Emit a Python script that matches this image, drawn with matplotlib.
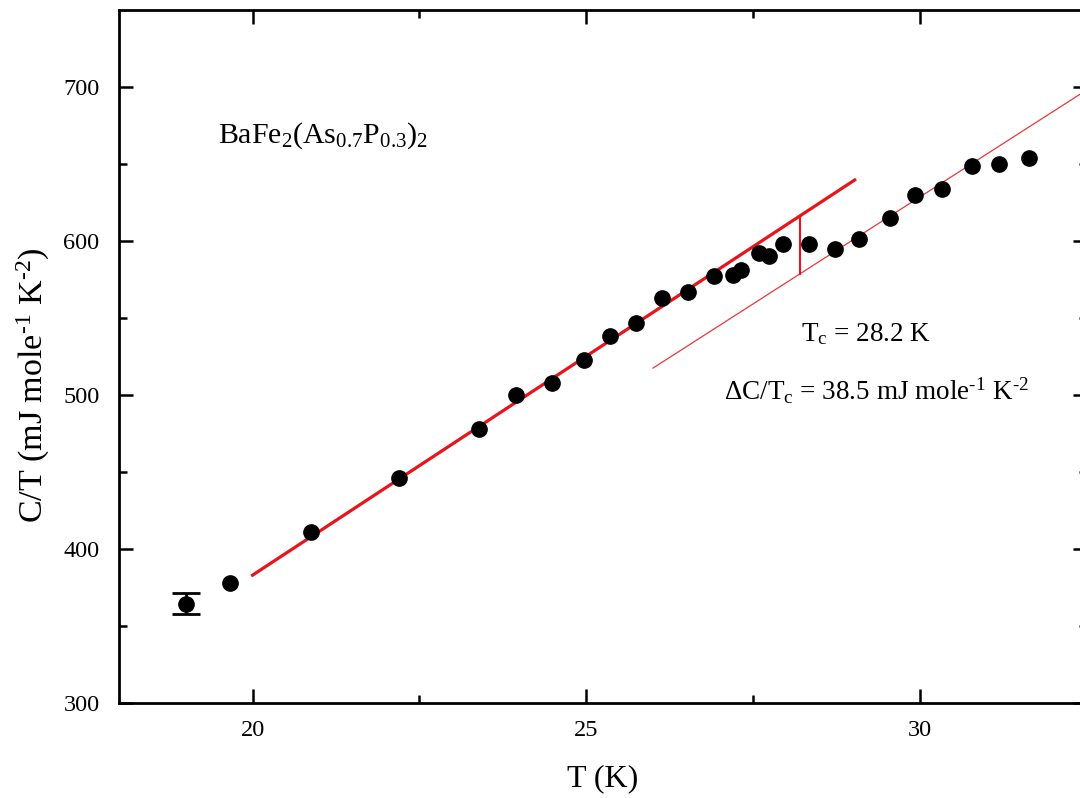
import matplotlib
matplotlib.use("Agg")
import matplotlib.pyplot as plt
import numpy as np

# Data
T = [19.67, 20.87, 22.20, 23.40, 23.94, 24.48, 24.97, 25.35, 25.74, 26.13,
     26.53, 26.91, 27.19, 27.31, 27.59, 27.73, 27.95, 28.33, 28.72, 29.09,
     29.55, 29.92, 30.33, 30.78, 31.18, 31.63]
CT = [378, 411, 446, 478, 500, 508, 523, 538, 547, 563,
      567, 577, 578, 581, 592, 590, 598, 598, 595, 601,
      615, 630, 634, 649, 650, 654]
err_T = [19.0]
err_CT = [364.5]
err_val = [7.0]

# fit lines (x range, value at start, slope)
fit_sc_x = [20.0, 29.02]
fit_sc_y0 = 383.0
fit_sc_slope = 28.45
fit_n_x = [26.0, 32.5]
fit_n_y0 = 517.5
fit_n_slope = 27.8
Tc = 28.2

plt.rcParams['font.family'] = ['Liberation Serif', 'DejaVu Serif']
plt.rcParams['mathtext.fontset'] = 'custom'
plt.rcParams['mathtext.rm'] = 'Liberation Serif'
plt.rcParams['mathtext.it'] = 'Liberation Serif:italic'
plt.rcParams['mathtext.default'] = 'regular'

W, H = 1080, 798
fig = plt.figure(figsize=(W / 100, H / 100), dpi=100)
ax = fig.add_axes([119 / W, 95 / H, (1087 - 119) / W, (703 - 10) / H])

def px(x, y):
    return x / W, 1 - y / H

red = '#e8141c'
x1 = np.array(fit_sc_x)
ax.plot(x1, fit_sc_y0 + fit_sc_slope * (x1 - fit_sc_x[0]), color=red, lw=2.3, zorder=2)
x2 = np.array(fit_n_x)
ax.plot(x2, fit_n_y0 + fit_n_slope * (x2 - fit_n_x[0]), color='#e83838', lw=0.9, zorder=2)
y_top = fit_sc_y0 + fit_sc_slope * (Tc - fit_sc_x[0])
y_bot = fit_n_y0 + fit_n_slope * (Tc - fit_n_x[0])
ax.plot([Tc, Tc], [y_bot, y_top], color=red, lw=1.5, zorder=2)

ax.plot(T, CT, 'o', color='black', ms=11, zorder=3)
ax.errorbar(err_T, err_CT, yerr=err_val, fmt='o', color='black', ms=11,
            capsize=10, capthick=2, elinewidth=2, zorder=3)

ax.set_xlim(18, 32.5)
ax.set_ylim(300, 750)
ax.set_xticks([20, 25, 30])
ax.set_xticks([22.5, 27.5], minor=True)
ax.set_yticks([300, 400, 500, 600, 700])
ax.set_yticks([350, 450, 550, 650], minor=True)
ax.tick_params(which='both', direction='in', top=True, right=True, width=1.8,
               labelsize=17.5)
ax.tick_params(axis='x', which='both', pad=12)
ax.tick_params(axis='y', which='both', pad=14)
ax.tick_params(which='major', length=10)
ax.tick_params(which='minor', length=5.5)
for s in ax.spines.values():
    s.set_linewidth(2)

fig.text(*px(603, 779), 'T (K)', fontsize=23, ha='center', va='center')
fig.text(*px(33, 385), 'C/T (mJ mole$^{\u2010 1}$ K$^{\u2010 2}$)', fontsize=24.5,
         ha='center', va='center', rotation=90)

fig.text(*px(218, 136), 'BaFe$_2$(As$_{0.7}$P$_{0.3}$)$_2$',
         fontsize=21.5, ha='left', va='center')
fig.text(*px(801, 334), 'T$_c$ = 28.2 K', fontsize=19.5, ha='left', va='center')
fig.text(*px(724, 391), '$\\Delta$C/T$_c$ = 38.5 mJ mole$^{\u2010 1}$ K$^{\u2010 2}$',
         fontsize=19.5, ha='left', va='center')

fig.savefig('out.png', dpi=100)
